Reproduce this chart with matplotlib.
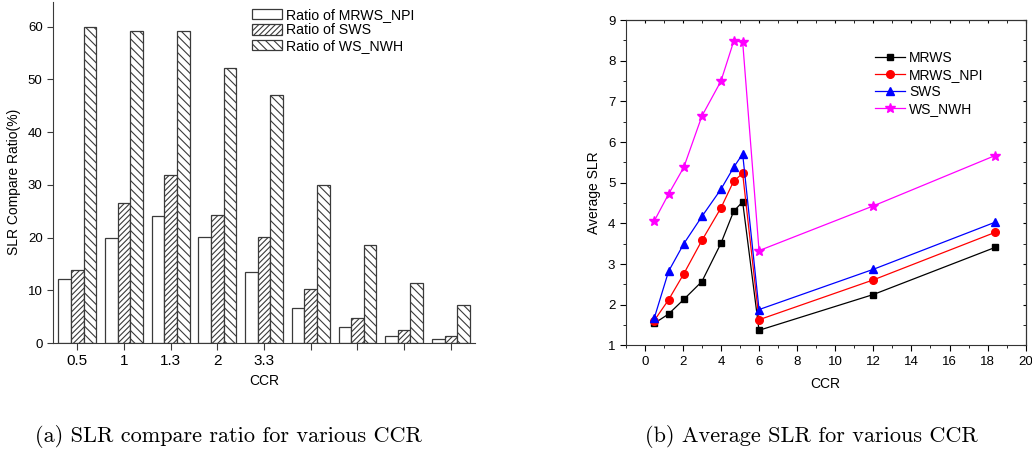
import numpy as np
import matplotlib.pyplot as plt
from matplotlib.ticker import MultipleLocator

plt.rcParams["font.family"] = ["Liberation Sans", "DejaVu Sans"]
plt.rcParams["hatch.linewidth"] = 0.8

# (a) SLR compare ratio, one group per CCR value
group_labels = ["0.5", "1", "1.3", "2", "3.3", "", "", "", ""]
ratio_mrws_npi = [12.1, 20.0, 24.0, 20.1, 13.4, 6.7, 3.0, 1.4, 0.8]
ratio_sws = [13.8, 26.6, 31.8, 24.3, 20.2, 10.3, 4.7, 2.5, 1.4]
ratio_ws_nwh = [60.0, 59.2, 59.2, 52.2, 47.0, 30.0, 18.5, 11.3, 7.3]

# (b) Average SLR vs CCR
ccr = [0.5, 1.25, 2.05, 3.0, 4.0, 4.67, 5.14, 6.0, 12.0, 18.4]
slr_mrws = [1.54, 1.77, 2.13, 2.57, 3.51, 4.30, 4.53, 1.37, 2.25, 3.41]
slr_mrws_npi = [1.61, 2.12, 2.76, 3.58, 4.38, 5.04, 5.23, 1.63, 2.61, 3.78]
slr_sws = [1.67, 2.82, 3.50, 4.17, 4.84, 5.38, 5.71, 1.88, 2.87, 4.03]
slr_ws_nwh = [4.06, 4.72, 5.38, 6.64, 7.50, 8.48, 8.47, 3.33, 4.43, 5.67]

fig = plt.figure(figsize=(10.32, 4.58), dpi=100)

# ---- left panel: grouped hatched bars ----
ax1 = fig.add_axes([0.0514, 0.251, 0.409, 0.745])
x = np.arange(len(group_labels))
w = 0.27
edge = "#3a3a3a"
ax1.bar(x - w, ratio_mrws_npi, w, color="white", edgecolor=edge, linewidth=0.9,
        label="Ratio of MRWS_NPI")
ax1.bar(x, ratio_sws, w, color="white", edgecolor=edge, linewidth=0.9,
        hatch="//////", label="Ratio of SWS")
ax1.bar(x + w, ratio_ws_nwh, w, color="white", edgecolor=edge, linewidth=0.9,
        hatch="\\\\\\\\", label="Ratio of WS_NWH")

ax1.set_xlim(-0.52, 8.52)
ax1.set_ylim(0, 64.7)
ax1.set_xticks(x)
ax1.set_xticklabels(group_labels, fontsize=11)
ax1.set_yticks(range(0, 61, 10))
ax1.tick_params(axis="y", labelsize=9.5, direction="out", length=4, color=edge)
ax1.tick_params(axis="x", direction="out", length=5, color=edge, pad=3)
for s in ["top", "right"]:
    ax1.spines[s].set_visible(False)
for s in ["left", "bottom"]:
    ax1.spines[s].set_color(edge)
ax1.set_xlabel("CCR", fontsize=10, labelpad=4)
ax1.set_ylabel("SLR Compare Ratio(%)", fontsize=10)
ax1.yaxis.set_label_coords(-0.076, 0.472)
ax1.legend(loc="upper left", bbox_to_anchor=(0.472, 0.982), frameon=False,
           fontsize=10.2, handlelength=2.1, handleheight=0.78, labelspacing=0.1,
           handletextpad=0.25, borderaxespad=0, borderpad=0)

# ---- right panel: lines with markers ----
ax2 = fig.add_axes([0.6063, 0.246, 0.3876, 0.710])
ax2.plot(ccr, slr_mrws, color="black", marker="s", markersize=5, linewidth=0.9,
         label="MRWS")
ax2.plot(ccr, slr_mrws_npi, color="red", marker="o", markersize=5.5, linewidth=0.9,
         label="MRWS_NPI")
ax2.plot(ccr, slr_sws, color="blue", marker="^", markersize=6, linewidth=0.9,
         label="SWS")
ax2.plot(ccr, slr_ws_nwh, color="#ff00ff", marker="*", markersize=7, linewidth=0.9,
         label="WS_NWH")

ax2.set_xlim(-1, 20)
ax2.set_ylim(1, 9)
ax2.xaxis.set_major_locator(MultipleLocator(2))
ax2.xaxis.set_minor_locator(MultipleLocator(1))
ax2.yaxis.set_major_locator(MultipleLocator(1))
ax2.yaxis.set_minor_locator(MultipleLocator(0.5))
ax2.tick_params(which="both", direction="out", labelsize=9.5)
ax2.tick_params(which="major", length=4)
ax2.tick_params(which="minor", length=2)

# small inward ticks on the top and right frame
secx = ax2.secondary_xaxis("top")
secx.xaxis.set_major_locator(MultipleLocator(2))
secx.xaxis.set_minor_locator(MultipleLocator(1))
secx.tick_params(which="both", direction="in", labeltop=False, length=2)
secy = ax2.secondary_yaxis("right")
secy.yaxis.set_major_locator(MultipleLocator(1))
secy.yaxis.set_minor_locator(MultipleLocator(0.5))
secy.tick_params(which="both", direction="in", labelright=False, length=2)

for s in ax2.spines.values():
    s.set_color("#333333")
ax2.set_xlabel("CCR", fontsize=10, labelpad=7)
ax2.set_ylabel("Average SLR", fontsize=10)
ax2.yaxis.set_label_coords(-0.062, 0.468)
ax2.legend(loc="upper left", bbox_to_anchor=(0.623, 0.905), frameon=False,
           fontsize=10, handlelength=2.15, labelspacing=0.22, handletextpad=0.3,
           borderaxespad=0, borderpad=0)

# captions
cap_kw = dict(fontsize=16, family=["cmr10", "DejaVu Serif"], ha="center", va="center")
fig.text(0.221, 0.046, "(a) SLR compare ratio for various CCR", **cap_kw)
fig.text(0.786, 0.046, "(b) Average SLR for various CCR", **cap_kw)

fig.savefig("out.png", dpi=100)
